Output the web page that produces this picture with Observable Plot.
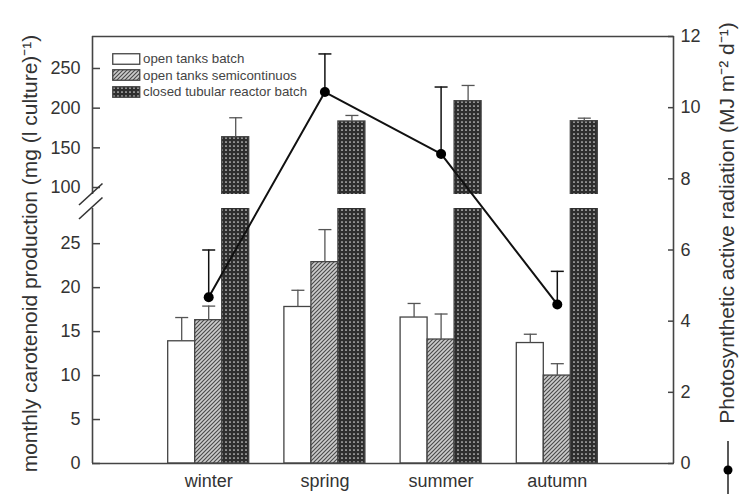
<!DOCTYPE html>
<html><head><meta charset="utf-8">
<script src="https://cdn.jsdelivr.net/npm/d3@7"></script>
<script src="https://cdn.jsdelivr.net/npm/@observablehq/plot@0.6"></script>
<style>
body{margin:0;background:#fff;font-family:"Liberation Sans",Arial,sans-serif;}
#wrap{position:relative;width:743px;height:499px;overflow:hidden;}
#wrap > svg{position:absolute;left:0;top:0;}
#legend{position:absolute;left:112px;top:50.3px;font-size:13.3px;color:#444;line-height:1;}
.row{display:flex;align-items:center;height:16.7px;white-space:nowrap;}
.row svg{margin-right:2px;flex:none;}
</style></head><body>
<svg width="0" height="0" style="position:absolute">
<defs>
<pattern id="hatch" patternUnits="userSpaceOnUse" width="4" height="4">
<rect width="4" height="4" fill="#cccccc"/>
<path d="M-1,1 l2,-2 M0,4 l4,-4 M3,5 l2,-2" stroke="#4a4a4a" stroke-width="1.15"/>
</pattern>
<pattern id="dots" patternUnits="userSpaceOnUse" width="4" height="4">
<rect width="4" height="4" fill="#2e2e2e"/>
<circle cx="2" cy="2" r="0.85" fill="#dddddd"/>
</pattern>
</defs></svg>
<div id="wrap"></div>
<script>
const seasons = ["winter", "spring", "summer", "autumn"];
const seriesNames = ["open tanks batch", "open tanks semicontinuos", "closed tubular reactor batch"];
const openBatch = [13.9, 17.8, 16.6, 13.7];
const openBatchErr = [2.7, 1.9, 1.6, 1.0];
const openSemi = [16.3, 22.9, 14.1, 10.0];
const openSemiErr = [1.6, 3.7, 2.9, 1.35];
const closedBatch = [163.4, 183.2, 208.8, 183.6];
const closedBatchErr = [24.5, 7.6, 19.8, 3.8];
const par = [4.67, 10.44, 8.70, 4.47];
const parErr = [1.33, 1.07, 1.88, 0.93];
const lowerTicks = [0, 5, 10, 15, 20, 25];
const upperTicks = [100, 150, 200, 250];
const rightTicks = [0, 2, 4, 6, 8, 10, 12];
const leftLabel = "monthly carotenoid production (mg (l culture)\u207B\u00B9)";
const rightLabel = "Photosynthetic active radiation (MJ m\u207B\u00B2 d\u207B\u00B9)";
const lowerDomain = [0, 29];
const upperDomain = [91.2, 290.3];

const series = [openBatch, openSemi, closedBatch];
const errs = [openBatchErr, openSemiErr, closedBatchErr];
const bars = seasons.flatMap((s, i) => series.map((vals, k) => ({season: s, pos: i + 1, k, value: vals[i], err: errs[k][i]})));
const parRows = seasons.map((s, i) => ({season: s, pos: i + 1, v: par[i], e: parErr[i]}));
const fills = ["white", "url(#hatch)", "url(#dots)"];
const barW = 0.2324, capW = 0.056;
const cx = d => d.pos + (d.k - 1) * barW;

const W = 743, H = 499, ML = 92, MR = 70, frameTop = 36, frameBottom = 463, breakTopPx = 194, breakBottomPx = 208;
const style = {fontFamily: '"Liberation Sans", Arial, sans-serif', fontSize: "18px", color: "#333", background: "transparent", overflow: "visible"};

function barMarks(rows) {
  return [
    Plot.rect(rows, {x1: d => cx(d) - barW / 2, x2: d => cx(d) + barW / 2, y1: 0, y2: "value", fill: d => fills[d.k], stroke: "#444", strokeWidth: 1.3, clip: true}),
    Plot.ruleX(rows, {x: cx, y1: "value", y2: d => d.value + d.err, stroke: "#555", strokeWidth: 1.3, clip: true}),
    Plot.link(rows, {x1: d => cx(d) - capW, x2: d => cx(d) + capW, y1: d => d.value + d.err, y2: d => d.value + d.err, stroke: "#555", strokeWidth: 1.3, clip: true})
  ];
}

const upperChart = Plot.plot({
  width: W, height: H, marginLeft: ML, marginRight: MR, marginTop: frameTop, marginBottom: H - breakTopPx, style,
  x: {domain: [0, 5], axis: null},
  y: {domain: upperDomain},
  color: {type: "identity"},
  marks: [
    ...barMarks(bars.filter(d => d.k === 2)),
    Plot.ruleX([0], {stroke: "#444", strokeWidth: 1.6}),
    Plot.ruleY([upperDomain[1]], {stroke: "#444", strokeWidth: 1.6}),
    Plot.axisY({anchor: "left", ticks: upperTicks, tickSize: -8, tickPadding: 20, label: null, stroke: "#444", strokeWidth: 1.5})
  ]
});

const lowerChart = Plot.plot({
  width: W, height: H, marginLeft: ML, marginRight: MR, marginTop: breakBottomPx, marginBottom: H - frameBottom, style,
  x: {domain: [0, 5]},
  y: {domain: lowerDomain},
  color: {type: "identity"},
  marks: [
    ...barMarks(bars),
    Plot.ruleX([0], {stroke: "#444", strokeWidth: 1.6}),
    Plot.ruleY([0], {stroke: "#444", strokeWidth: 1.6}),
    Plot.axisY({anchor: "left", ticks: lowerTicks, tickSize: -8, tickPadding: 20, label: null, stroke: "#444", strokeWidth: 1.5}),
    Plot.axisX({ticks: [1, 2, 3, 4], tickFormat: i => seasons[i - 1], tickSize: 0, tickPadding: 11, label: null})
  ]
});

const parChart = Plot.plot({
  width: W, height: H, marginLeft: ML, marginRight: MR, marginTop: frameTop, marginBottom: H - frameBottom, style,
  x: {domain: [0, 5], axis: null},
  y: {domain: [0, 12]},
  marks: [
    Plot.ruleX([5], {stroke: "#444", strokeWidth: 1.6}),
    Plot.ruleX(parRows, {x: "pos", y1: "v", y2: d => d.v + d.e, stroke: "#111", strokeWidth: 1.5}),
    Plot.link(parRows, {x1: d => d.pos - capW, x2: d => d.pos + capW, y1: d => d.v + d.e, y2: d => d.v + d.e, stroke: "#111", strokeWidth: 1.5}),
    Plot.line(parRows, {x: "pos", y: "v", stroke: "#111", strokeWidth: 2}),
    Plot.dot(parRows, {x: "pos", y: "v", r: 5, fill: "#000"}),
    Plot.axisY({anchor: "right", ticks: rightTicks, tickSize: -6, tickPadding: 13, label: null, stroke: "#444", strokeWidth: 1.5}),
    Plot.text([rightLabel], {text: d => d, frameAnchor: "right", textAnchor: "middle", rotate: -90, dx: 54, dy: -27, fontSize: 21, fill: "#333"}),
    Plot.text([leftLabel], {text: d => d, frameAnchor: "left", textAnchor: "middle", rotate: -90, dx: -62, dy: 3.5, fontSize: 21, fill: "#333"})
  ]
});

const wrap = document.getElementById("wrap");
wrap.appendChild(upperChart);
wrap.appendChild(lowerChart);
wrap.appendChild(parChart);

// axis break marks
const X = lowerChart.scale("x");
const x0 = X.apply(0);
const yLowTop = lowerChart.scale("y").apply(lowerDomain[1]);
const yUpBottom = upperChart.scale("y").apply(upperDomain[0]);
const sl = d3.select(lowerChart).append("g").attr("stroke", "#333").attr("stroke-width", 1.6);
[yUpBottom, yLowTop].forEach(y => {
  sl.append("line").attr("x1", x0 - 13).attr("y1", y + 11).attr("x2", x0 + 10.5).attr("y2", y - 10.5);
});

// line/dot symbol next to right label
const xr = X.apply(5) + 55;
const g = d3.select(parChart).append("g");
g.append("line").attr("x1", xr).attr("x2", xr).attr("y1", 441).attr("y2", 494).attr("stroke", "#222").attr("stroke-width", 1.5);
g.append("circle").attr("cx", xr).attr("cy", 470).attr("r", 4.5).attr("fill", "#000");

// legend
const legend = d3.select(wrap).append("div").attr("id", "legend");
seriesNames.forEach((n, k) => {
  const row = legend.append("div").attr("class", "row");
  const s = row.append("svg").attr("width", 29).attr("height", 12);
  s.append("rect").attr("x", 0.75).attr("y", 0.75).attr("width", 27).attr("height", 10.5)
    .attr("fill", fills[k]).attr("stroke", "#444").attr("stroke-width", 1.3);
  row.append("span").text(n);
});
</script>
</body></html>
